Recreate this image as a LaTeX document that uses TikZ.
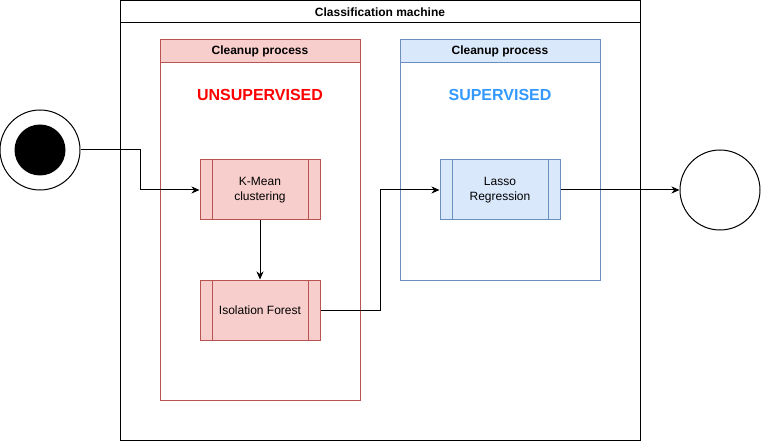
\documentclass[tikz,border=0pt]{standalone}
\usepackage{fontspec}
\setmainfont{Liberation Sans}
\usetikzlibrary{arrows.meta}
\definecolor{redfill}{HTML}{F8CECC}
\definecolor{redline}{HTML}{B85450}
\definecolor{bluefill}{HTML}{DAE8FC}
\definecolor{blueline}{HTML}{6C8EBF}
\definecolor{supblue}{HTML}{3399FF}
\definecolor{supred}{HTML}{FF0000}
\tikzset{
  lbl/.style={font=\fontsize{12}{15}\selectfont},
  hdr/.style={font=\fontsize{12}{15}\selectfont\bfseries},
  pool/.style={draw, rectangle, inner sep=0pt},
  poolhead/.style={draw, rectangle, inner sep=0pt, minimum width=200pt, minimum height=23pt, hdr},
  subproc/.style={draw, rectangle, inner sep=0pt, minimum width=120pt, minimum height=60pt, align=center, lbl,
    path picture={\draw[line width=1pt] ([xshift=12pt]path picture bounding box.north west) -- ([xshift=12pt]path picture bounding box.south west);
                  \draw[line width=1pt] ([xshift=-12pt]path picture bounding box.north east) -- ([xshift=-12pt]path picture bounding box.south east);}},
  redsub/.style={subproc, fill=redfill, draw=redline},
  bluesub/.style={subproc, fill=bluefill, draw=blueline},
  arr/.style={draw=black, line width=1pt, -{Stealth[length=8pt,width=7pt,inset=2.5pt]}},
  big/.style={font=\fontsize{16}{19}\selectfont\bfseries}
}
\begin{document}
\begin{tikzpicture}[x=1pt,y=-1pt,line width=1pt]
\useasboundingbox (0,0) rectangle (761,441);
% outer frame
\node[pool, draw=black, minimum width=520pt, minimum height=439.5pt] (machine) at (380,220.25) {};
\draw ([yshift=-23pt]machine.north west) -- ([yshift=-23pt]machine.north east);
\node[hdr] (machinetitle) at (380,12) {Classification machine};
% red pool
\node[pool, draw=redline, minimum width=200pt, minimum height=360pt] (redpool) at (260,220) {};
\node[poolhead, fill=redfill, draw=redline] (redhead) at (260,51.5) {Cleanup process};
\node[big, text=supred] (unsup) at (260,95) {UNSUPERVISED};
% blue pool
\node[pool, draw=blueline, minimum width=200pt, minimum height=240pt] (bluepool) at (500,160) {};
\node[poolhead, fill=bluefill, draw=blueline] (bluehead) at (500,51.5) {Cleanup process};
\node[big, text=supblue] (sup) at (500,95) {SUPERVISED};
% tasks
\node[redsub] (kmean) at (260,190) {K-Mean\\clustering};
\node[redsub] (iso) at (260,310) {Isolation Forest};
\node[bluesub] (lasso) at (500,190) {Lasso\\Regression};
% events
\node[draw, circle, minimum size=80pt, inner sep=0pt] (start) at (40,150) {};
\node[fill=black, circle, minimum size=51pt, inner sep=0pt] (startdot) at (40,150) {};
\node[draw, circle, minimum size=80pt, inner sep=0pt] (end) at (720,190) {};
% connectors
\draw[arr] (start.east) -- ++(60,0) |- (kmean.west);
\draw[arr] (kmean.south) -- (iso.north);
\draw[arr] (iso.east) -- ++(60,0) |- (lasso.west);
\draw[arr] (lasso.east) -- (end.west);
\end{tikzpicture}
\end{document}
